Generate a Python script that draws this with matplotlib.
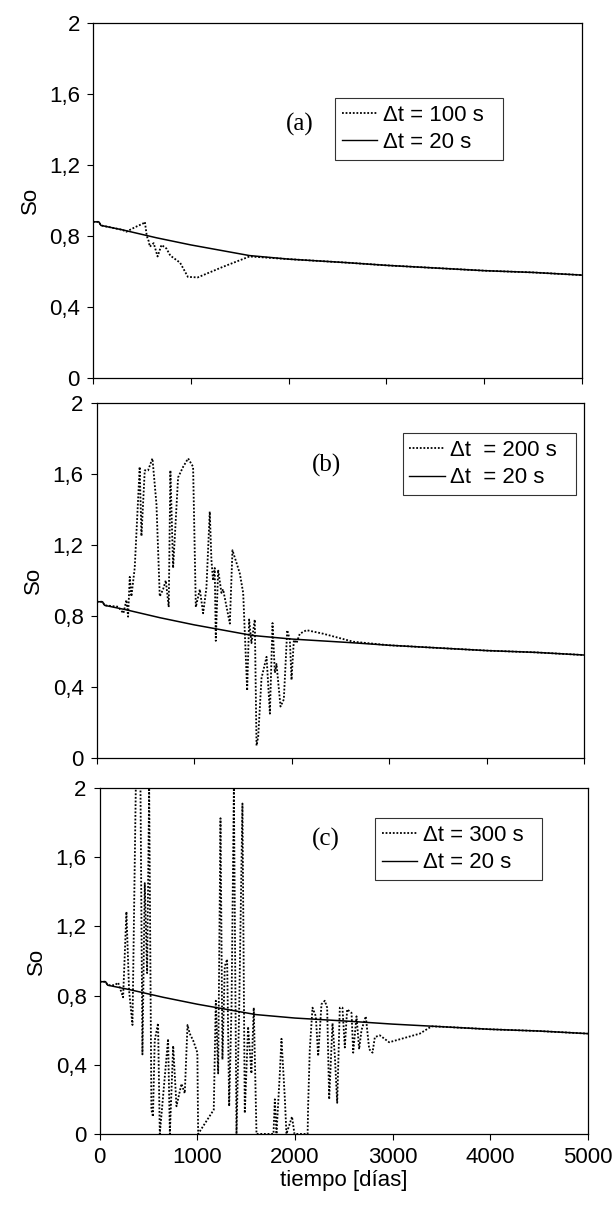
import matplotlib.pyplot as plt
from matplotlib.ticker import FuncFormatter
from matplotlib.lines import Line2D

plt.rcParams['font.family'] = ['Liberation Sans', 'DejaVu Sans']

# reference run, dt = 20 s (same in all three panels)
t_ref = [0, 60, 80, 300, 650, 1000, 1600, 2000, 2600, 3000, 3500, 4000, 4500, 5000]
so_ref = [0.88, 0.88, 0.86, 0.835, 0.79, 0.75, 0.69, 0.67, 0.65, 0.635, 0.62, 0.605, 0.595, 0.58]

# dt = 100 s
t_a = [0, 60, 80, 300, 340, 430, 510, 530, 550, 570, 580, 620, 660, 700, 750, 790,
       890, 970, 1070, 1330, 1600, 2000, 2600, 3000, 3500, 4000, 4500, 5000]
so_a = [0.88, 0.88, 0.86, 0.835, 0.824, 0.85, 0.87, 0.88, 0.80, 0.77, 0.74, 0.76, 0.685,
        0.75, 0.73, 0.69, 0.65, 0.57, 0.567, 0.627, 0.685, 0.67, 0.65, 0.635, 0.62,
        0.605, 0.595, 0.58]

# dt = 200 s
t_b = [0, 60, 80, 219, 274, 305, 322, 339, 356, 390, 441, 459, 493, 527, 572, 613, 647,
       681, 709, 739, 756, 784, 835, 887, 938, 989, 1017, 1058, 1092, 1126, 1160, 1177,
       1194, 1211, 1222, 1246, 1280, 1297, 1366, 1393, 1434, 1468, 1503, 1544, 1564,
       1588, 1622, 1640, 1657, 1691, 1743, 1777, 1804, 1828, 1845, 1886, 1920, 1955,
       1982, 1999, 2023, 2050, 2084, 2153, 2324, 2632, 3000, 3500, 4000, 4500, 5000]
so_b = [0.88, 0.88, 0.86, 0.852, 0.815, 0.89, 0.796, 1.02, 0.91, 1.07, 1.64, 1.25, 1.62,
        1.62, 1.687, 1.43, 0.91, 0.95, 1.0, 0.85, 1.62, 1.07, 1.58, 1.64, 1.687, 1.64,
        0.85, 0.95, 0.815, 0.96, 1.388, 1.115, 1.0, 1.07, 0.66, 1.06, 0.93, 0.95, 0.757,
        1.17, 1.10, 1.04, 0.93, 0.38, 0.78, 0.647, 0.78, 0.07, 0.12, 0.45, 0.57, 0.25,
        0.76, 0.48, 0.53, 0.29, 0.33, 0.72, 0.665, 0.44, 0.665, 0.647, 0.70, 0.72, 0.70,
        0.655, 0.635, 0.62, 0.605, 0.595, 0.58]

# dt = 300 s
t_c = [0, 60, 80, 154, 188, 239, 273, 300, 335, 369, 393, 417, 437, 461, 485, 506, 529,
       545, 563, 597, 615, 700, 718, 752, 786, 837, 871, 899, 922, 957, 1000, 1008,
       1168, 1189, 1213, 1237, 1257, 1281, 1305, 1326, 1350, 1374, 1401, 1428, 1462,
       1486, 1520, 1554, 1578, 1606, 1780, 1794, 1811, 1845, 1862, 1896, 1913, 1970,
       1995, 2130, 2135, 2152, 2180, 2214, 2238, 2272, 2306, 2330, 2351, 2385, 2409,
       2433, 2460, 2487, 2511, 2535, 2580, 2597, 2631, 2658, 2682, 2726, 2761, 2795,
       2819, 2870, 2966, 3280, 3400, 3500, 4000, 4500, 5000]
so_c = [0.88, 0.88, 0.86, 0.86, 0.875, 0.79, 1.285, 0.83, 0.63, 2.0, 2.0, 2.0, 0.46,
        1.45, 0.93, 2.0, 0.14, 0.10, 0.54, 0.64, 0.0, 0.55, 0.0, 0.51, 0.16, 0.29,
        0.235, 0.63, 0.58, 0.54, 0.47, 0.0, 0.14, 0.77, 0.35, 1.825, 0.43, 0.97, 1.01,
        0.16, 0.73, 2.0, 0.0, 0.70, 1.91, 0.12, 0.62, 0.35, 0.73, 0.0, 0.0, 0.20, 0.0,
        0.35, 0.55, 0.21, 0.0, 0.10, 0.0, 0.0, 0.16, 0.485, 0.73, 0.68, 0.45, 0.75,
        0.77, 0.73, 0.20, 0.64, 0.45, 0.18, 0.73, 0.73, 0.50, 0.72, 0.70, 0.47, 0.68,
        0.49, 0.60, 0.68, 0.49, 0.47, 0.56, 0.57, 0.53, 0.58, 0.622, 0.62, 0.605,
        0.595, 0.58]

panels = [
    ('(a)', t_a, so_a, ['\u0394t = 100 s', '\u0394t = 20 s']),
    ('(b)', t_b, so_b, ['\u0394t  = 200 s', '\u0394t  = 20 s']),
    ('(c)', t_c, so_c, ['\u0394t = 300 s', '\u0394t = 20 s']),
]
boxes = [[0.151, 0.687, 0.794, 0.294],
         [0.157, 0.3725, 0.791, 0.294],
         [0.162, 0.0613, 0.792, 0.2864]]
tag_pos = [(0.423, 0.713), (0.472, 0.825), (0.463, 0.85)]
leg_pos = [(0.495, 0.789), (0.628, 0.915), (0.564, 0.913)]

fig = plt.figure(figsize=(6.16, 12.08), dpi=100)
dot_style = (0, (1, 1))

for i, (tag, t, so, labels) in enumerate(panels):
    ax = fig.add_axes(boxes[i])
    ax.plot(t, so, color='black', lw=1.3, linestyle=dot_style)
    ax.plot(t_ref, so_ref, color='black', lw=1.1)
    ax.set_xlim(0, 5000)
    ax.set_ylim(0, 2)
    ax.set_xticks([0, 1000, 2000, 3000, 4000, 5000])
    ax.set_yticks([0, 0.4, 0.8, 1.2, 1.6, 2.0])
    ax.yaxis.set_major_formatter(FuncFormatter(
        lambda v, p: ('%g' % round(v, 1)).replace('.', ',')))
    ax.tick_params(direction='out', length=4.5, width=0.8, labelsize=16, pad=5)
    if i < 2:
        ax.tick_params(axis='x', labelbottom=False)
    else:
        ax.set_xlabel('tiempo [días]', fontsize=16, labelpad=1)
    ax.set_ylabel('So', fontsize=16, labelpad=6)
    for s in ax.spines.values():
        s.set_linewidth(0.9)
    ax.text(tag_pos[i][0], tag_pos[i][1], tag, transform=ax.transAxes,
            fontsize=18, family='Liberation Serif', ha='center', va='center')
    handles = [Line2D([], [], color='black', lw=1.3, linestyle=dot_style),
               Line2D([], [], color='black', lw=1.0)]
    leg = ax.legend(handles, labels, loc='upper left', bbox_to_anchor=leg_pos[i],
                    fontsize=16, frameon=True, fancybox=False, edgecolor='black',
                    handlelength=1.6, handletextpad=0.25, borderpad=0.3,
                    borderaxespad=0, labelspacing=0.3)
    leg._legend_box.sep = 2
    leg.get_frame().set_linewidth(0.8)
    # a little extra room on the right, like the original boxes
    for txt in leg.get_texts():
        txt.set_text(txt.get_text() + '  ')

plt.savefig('out.png', dpi=100)
